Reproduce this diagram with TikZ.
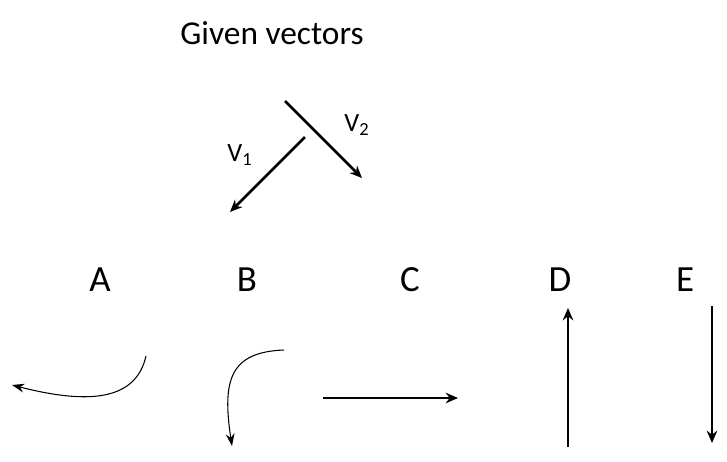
\documentclass[tikz,border=0pt]{standalone}
\usepackage{fontspec}
\setmainfont{Carlito}
\usetikzlibrary{arrows.meta}
\begin{document}
\begin{tikzpicture}[x=0.02cm,y=-0.02cm,
  thick arr/.style={line width=1.6pt,-{Stealth[length=7pt,width=6pt]}},
  thin arr/.style={line width=0.6pt,-{Stealth[length=7pt,width=5pt]}},
  lbl/.style={font=\fontsize{21}{24}\selectfont},
  vlbl/.style={font=\fontsize{15}{18}\selectfont}]
\useasboundingbox (0,0) rectangle (727,461);
\node[font=\fontsize{19}{22}\selectfont] (title) at (272,33) {Given vectors};
\coordinate (v1s) at (305,137); \coordinate (v1e) at (230,212);
\coordinate (v2s) at (285,101); \coordinate (v2e) at (362,178);
\draw[thick arr] (v1s) -- (v1e);
\draw[thick arr] (v2s) -- (v2e);
\node[vlbl] (l1) at (240,155) {V\textsubscript{1}};
\node[vlbl] (l2) at (357,125) {V\textsubscript{2}};
\node[lbl] (A) at (100,280) {A};
\node[lbl] (B) at (247,280) {B};
\node[lbl] (C) at (410,280) {C};
\node[lbl] (D) at (560,280) {D};
\node[lbl] (E) at (685,280) {E};
\coordinate (as) at (146,356); \coordinate (ae) at (12,385);
\draw[thin arr] (as) .. controls (136,400) and (90,405) .. (ae);
\coordinate (bs) at (284,350); \coordinate (be) at (232,446);
\draw[thin arr] (bs) .. controls (230,352) and (222,380) .. (be);
\coordinate (cs) at (323,398); \coordinate (ce) at (458,398);
\draw[thick arr] (cs) -- (ce);
\coordinate (ds) at (568,447); \coordinate (de) at (568,308);
\draw[thick arr] (ds) -- (de);
\coordinate (es) at (712,306); \coordinate (ee) at (712,443);
\draw[thick arr] (es) -- (ee);
\end{tikzpicture}
\end{document}
